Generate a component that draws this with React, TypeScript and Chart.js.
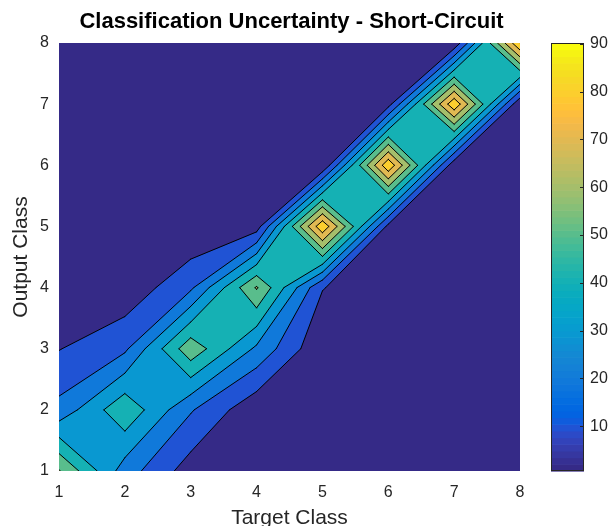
import React, { useEffect, useRef } from "react";
import { Chart, registerables } from "chart.js";

Chart.register(...registerables);

// ---------------- data ----------------
const chartTitle = "Classification Uncertainty - Short-Circuit";
const targetClasses = [1, 2, 3, 4, 5, 6, 7, 8];
const outputClasses = [1, 2, 3, 4, 5, 6, 7, 8];
// uncertainty values, one row per output class, columns follow target classes
const outputClass1 = [60.8, 25, 5, 0.9, 0.7, 0.6, 0.6, 0.6];
const outputClass2 = [23, 48, 21, 2.3, 0.7, 0.6, 0.6, 0.6];
const outputClass3 = [9.6, 18, 57, 28, 1.2, 0.7, 0.6, 0.6];
const outputClass4 = [1, 2.8, 18, 61, 10.5, 0.8, 0.6, 0.6];
const outputClass5 = [0.6, 0.6, 0.8, 5, 88, 7, 0.7, 0.6];
const outputClass6 = [0.6, 0.6, 0.6, 0.7, 0.6, 88, 3, 0.7];
const outputClass7 = [0.6, 0.6, 0.6, 0.6, 0.7, 6, 88, 1];
const outputClass8 = [0.6, 0.6, 0.6, 0.6, 0.6, 0.7, 2, 90.2];
const uncertainty = [
  outputClass1, outputClass2, outputClass3, outputClass4,
  outputClass5, outputClass6, outputClass7, outputClass8,
];
const contourLevels = [10, 20, 30, 40, 50, 60, 70, 80, 90];
const axisTicks = [1, 2, 3, 4, 5, 6, 7, 8];
const colorbarTicks = [10, 20, 30, 40, 50, 60, 70, 80, 90];
const colorMin = 0.6;
const colorMax = 90.2;

const parula = [
  [0.2081, 0.1663, 0.5292], [0.2116, 0.1898, 0.5777], [0.2123, 0.2138, 0.627], [0.2081, 0.2386, 0.6771],
  [0.1959, 0.2645, 0.7279], [0.1707, 0.2919, 0.7792], [0.1253, 0.3242, 0.8303], [0.0591, 0.3598, 0.8683],
  [0.0117, 0.3875, 0.882], [0.006, 0.4086, 0.8828], [0.0165, 0.4266, 0.8786], [0.0329, 0.443, 0.872],
  [0.0498, 0.4586, 0.8641], [0.0629, 0.4737, 0.8554], [0.0723, 0.4887, 0.8467], [0.0779, 0.504, 0.8384],
  [0.0793, 0.52, 0.8312], [0.0749, 0.5375, 0.8263], [0.0641, 0.557, 0.824], [0.0488, 0.5772, 0.8228],
  [0.0343, 0.5966, 0.8199], [0.0265, 0.6137, 0.8135], [0.0239, 0.6287, 0.8038], [0.0231, 0.6418, 0.7913],
  [0.0228, 0.6535, 0.7768], [0.0267, 0.6642, 0.7607], [0.0384, 0.6743, 0.7436], [0.059, 0.6838, 0.7254],
  [0.0843, 0.6928, 0.7062], [0.1133, 0.7015, 0.6859], [0.1453, 0.7098, 0.6646], [0.1801, 0.7177, 0.6424],
  [0.2178, 0.725, 0.6193], [0.2586, 0.7317, 0.5954], [0.3022, 0.7376, 0.5712], [0.3482, 0.7424, 0.5473],
  [0.3953, 0.7459, 0.5244], [0.442, 0.7481, 0.5033], [0.4871, 0.7491, 0.484], [0.53, 0.7491, 0.4661],
  [0.5709, 0.7485, 0.4494], [0.6099, 0.7473, 0.4337], [0.6473, 0.7456, 0.4188], [0.6834, 0.7435, 0.4044],
  [0.7184, 0.7411, 0.3905], [0.7525, 0.7384, 0.3768], [0.7858, 0.7356, 0.3633], [0.8185, 0.7327, 0.3498],
  [0.8507, 0.7299, 0.336], [0.8824, 0.7274, 0.3217], [0.9139, 0.7258, 0.3063], [0.945, 0.7261, 0.2886],
  [0.9739, 0.7314, 0.2666], [0.9938, 0.7455, 0.2403], [0.999, 0.7653, 0.2164], [0.9955, 0.7861, 0.1967],
  [0.988, 0.8066, 0.1794], [0.9789, 0.8271, 0.1633], [0.9697, 0.8481, 0.1475], [0.9626, 0.8705, 0.1309],
  [0.9589, 0.8949, 0.1132], [0.9598, 0.9218, 0.0948], [0.9661, 0.9514, 0.0755], [0.9763, 0.9831, 0.0538],
];

const FONT = "'Liberation Sans', Arial, Helvetica, sans-serif";
const TEXT = "#262626";

function rgbOf(c: number[]) {
  return `rgb(${Math.round(c[0] * 255)},${Math.round(c[1] * 255)},${Math.round(c[2] * 255)})`;
}
function colorForValue(v: number) {
  const m = parula.length;
  let idx = Math.floor(((v - colorMin) / (colorMax - colorMin)) * m);
  idx = Math.max(0, Math.min(m - 1, idx));
  return rgbOf(parula[idx]);
}

type P = [number, number];

function crossPoint(ax: number, ay: number, av: number, bx: number, by: number, bv: number, L: number): P {
  if (ax > bx || (ax === bx && ay > by)) {
    [ax, bx] = [bx, ax];
    [ay, by] = [by, ay];
    [av, bv] = [bv, av];
  }
  const t = (L - av) / (bv - av);
  return [ax + t * (bx - ax), ay + t * (by - ay)];
}

interface Cell { cx: number[]; cy: number[]; v: number[]; center: number; }

function regionPolys(c: Cell, L: number): P[][] {
  const ins = c.v.map((val) => val >= L);
  const n = ins.filter(Boolean).length;
  if (n === 0) return [];
  const pt = (k: number): P => [c.cx[k], c.cy[k]];
  const cross = (a: number, b: number) => crossPoint(c.cx[a], c.cy[a], c.v[a], c.cx[b], c.cy[b], c.v[b], L);
  const saddle = n === 2 && ins[0] === ins[2];
  if (saddle && c.center < L) {
    const polys: P[][] = [];
    for (let k = 0; k < 4; k++) {
      if (!ins[k]) continue;
      const prev = (k + 3) % 4, next = (k + 1) % 4;
      polys.push([cross(prev, k), pt(k), cross(k, next)]);
    }
    return polys;
  }
  const poly: P[] = [];
  for (let k = 0; k < 4; k++) {
    const next = (k + 1) % 4;
    if (ins[k]) poly.push(pt(k));
    if (ins[k] !== ins[next]) poly.push(cross(k, next));
  }
  return [poly];
}

function contourSegs(c: Cell, L: number): [P, P][] {
  const ins = c.v.map((val) => val >= L);
  const n = ins.filter(Boolean).length;
  if (n === 0 || n === 4) return [];
  const cross = (a: number, b: number) => crossPoint(c.cx[a], c.cy[a], c.v[a], c.cx[b], c.cy[b], c.v[b], L);
  const saddle = n === 2 && ins[0] === ins[2];
  if (saddle) {
    const cutIn = c.center < L;
    const segs: [P, P][] = [];
    for (let k = 0; k < 4; k++) {
      if (ins[k] !== cutIn) continue;
      const prev = (k + 3) % 4, next = (k + 1) % 4;
      segs.push([cross(prev, k), cross(k, next)]);
    }
    return segs;
  }
  const pts: P[] = [];
  for (let k = 0; k < 4; k++) {
    const next = (k + 1) % 4;
    if (ins[k] !== ins[next]) pts.push(cross(k, next));
  }
  return [[pts[0], pts[1]]];
}

const contourPlugin = {
  id: "filledContour",
  beforeDatasetsDraw(chart: any) {
    const { ctx, chartArea } = chart;
    const xs = targetClasses.map((v) => chart.scales.x.getPixelForValue(v));
    const ys = outputClasses.map((v) => chart.scales.y.getPixelForValue(v));
    const cells: Cell[] = [];
    for (let j = 0; j < ys.length - 1; j++) {
      for (let i = 0; i < xs.length - 1; i++) {
        const v = [uncertainty[j][i], uncertainty[j][i + 1], uncertainty[j + 1][i + 1], uncertainty[j + 1][i]];
        cells.push({
          cx: [xs[i], xs[i + 1], xs[i + 1], xs[i]],
          cy: [ys[j], ys[j], ys[j + 1], ys[j + 1]],
          v,
          center: (v[0] + v[1] + v[2] + v[3]) / 4,
        });
      }
    }
    ctx.save();
    ctx.beginPath();
    ctx.rect(chartArea.left, chartArea.top, chartArea.width, chartArea.height);
    ctx.clip();
    ctx.fillStyle = colorForValue(colorMin);
    ctx.fillRect(xs[0], ys[ys.length - 1], xs[xs.length - 1] - xs[0], ys[0] - ys[ys.length - 1]);
    for (const L of contourLevels) {
      ctx.beginPath();
      for (const c of cells) {
        for (const poly of regionPolys(c, L)) {
          ctx.moveTo(poly[0][0], poly[0][1]);
          for (let k = 1; k < poly.length; k++) ctx.lineTo(poly[k][0], poly[k][1]);
          ctx.closePath();
        }
      }
      ctx.fillStyle = colorForValue(L);
      ctx.fill("nonzero");
    }
    ctx.strokeStyle = "#000000";
    ctx.lineWidth = 1;
    ctx.lineCap = "round";
    ctx.lineJoin = "round";
    for (const L of contourLevels) {
      ctx.beginPath();
      for (const c of cells) {
        for (const [a, b] of contourSegs(c, L)) {
          ctx.moveTo(a[0], a[1]);
          ctx.lineTo(b[0], b[1]);
        }
      }
      ctx.stroke();
    }
    ctx.restore();
  },
  afterDraw(chart: any) {
    const { ctx, chartArea } = chart;
    ctx.save();
    ctx.fillStyle = "#000000";
    ctx.font = `bold 22px ${FONT}`;
    ctx.textAlign = "center";
    ctx.textBaseline = "middle";
    ctx.fillText(chartTitle, (chartArea.left + chartArea.right) / 2 + 2, 22);
    ctx.restore();
  },
};

const colorbarPlugin = {
  id: "colorbarFill",
  beforeDatasetsDraw(chart: any) {
    const { ctx, chartArea: a } = chart;
    const y = chart.scales.y;
    const m = parula.length;
    ctx.save();
    for (let k = 0; k < m; k++) {
      const v0 = colorMin + ((colorMax - colorMin) * k) / m;
      const v1 = colorMin + ((colorMax - colorMin) * (k + 1)) / m;
      const p0 = y.getPixelForValue(v0);
      const p1 = y.getPixelForValue(v1);
      ctx.fillStyle = rgbOf(parula[k]);
      ctx.fillRect(a.left, Math.min(p0, p1), a.width, Math.abs(p1 - p0) + 0.6);
    }
    ctx.strokeStyle = TEXT;
    ctx.lineWidth = 1;
    ctx.beginPath();
    for (const t of colorbarTicks) {
      const py = Math.round(y.getPixelForValue(t)) + 0.5;
      ctx.moveTo(a.right - 4, py);
      ctx.lineTo(a.right, py);
    }
    ctx.stroke();
    ctx.strokeRect(a.left + 0.5, a.top + 0.5, a.width - 1, a.height - 1);
    ctx.restore();
  },
};

export default function App() {
  const mainRef = useRef<HTMLCanvasElement>(null);
  const barRef = useRef<HTMLCanvasElement>(null);

  useEffect(() => {
    const main = new Chart(mainRef.current as HTMLCanvasElement, {
      type: "scatter",
      data: { datasets: [] },
      plugins: [contourPlugin],
      options: {
        animation: false,
        responsive: false,
        devicePixelRatio: 1,
        layout: { padding: { left: 0, right: 60, top: 43, bottom: 0 } },
        plugins: {
          legend: { display: false },
          tooltip: { enabled: false },
          title: { display: false },
        },
        scales: {
          x: {
            type: "linear",
            min: 1,
            max: 8,
            afterFit: (s: any) => { s.height = 55; },
            afterBuildTicks: (s: any) => { s.ticks = axisTicks.map((v) => ({ value: v })); },
            grid: { display: false, drawTicks: false, tickLength: 0 },
            border: { display: false },
            ticks: { color: TEXT, font: { family: FONT, size: 16 }, padding: 12, maxRotation: 0 },
            title: { display: true, text: "Target Class", color: TEXT, font: { family: FONT, size: 21, lineHeight: 1 }, padding: { top: 0, bottom: -3 } },
          },
          y: {
            type: "linear",
            min: 1,
            max: 8,
            afterFit: (s: any) => { s.width = 59; },
            afterBuildTicks: (s: any) => { s.ticks = axisTicks.map((v) => ({ value: v })); },
            grid: { display: false, drawTicks: false, tickLength: 0 },
            border: { display: false },
            ticks: { color: TEXT, font: { family: FONT, size: 16 }, padding: 10 },
            title: { display: true, text: "Output Class", color: TEXT, font: { family: FONT, size: 21, lineHeight: 1 }, padding: { top: 11, bottom: 0 } },
          },
        },
      },
    });

    const bar = new Chart(barRef.current as HTMLCanvasElement, {
      type: "scatter",
      data: { datasets: [] },
      plugins: [colorbarPlugin],
      options: {
        animation: false,
        responsive: false,
        devicePixelRatio: 1,
        layout: { padding: { left: 15, right: 0, top: 43, bottom: 55 } },
        plugins: { legend: { display: false }, tooltip: { enabled: false } },
        scales: {
          x: { type: "linear", display: false, min: 0, max: 1 },
          y: {
            type: "linear",
            position: "right",
            min: colorMin,
            max: colorMax,
            afterFit: (s: any) => { s.width = 31; },
            afterBuildTicks: (s: any) => { s.ticks = colorbarTicks.map((v) => ({ value: v })); },
            grid: { display: false, drawTicks: false, tickLength: 0 },
            border: { display: false },
            ticks: { color: TEXT, font: { family: FONT, size: 16 }, padding: 6 },
          },
        },
      },
    });

    return () => {
      main.destroy();
      bar.destroy();
    };
  }, []);

  return (
    <div style={{ position: "fixed", left: 0, top: 0, width: 615, height: 526, background: "#ffffff" }}>
      <canvas ref={mainRef} width={580} height={526} style={{ position: "absolute", left: 0, top: 0, width: 580, height: 526 }} />
      <canvas ref={barRef} width={79} height={526} style={{ position: "absolute", left: 536, top: 0, width: 79, height: 526 }} />
    </div>
  );
}
